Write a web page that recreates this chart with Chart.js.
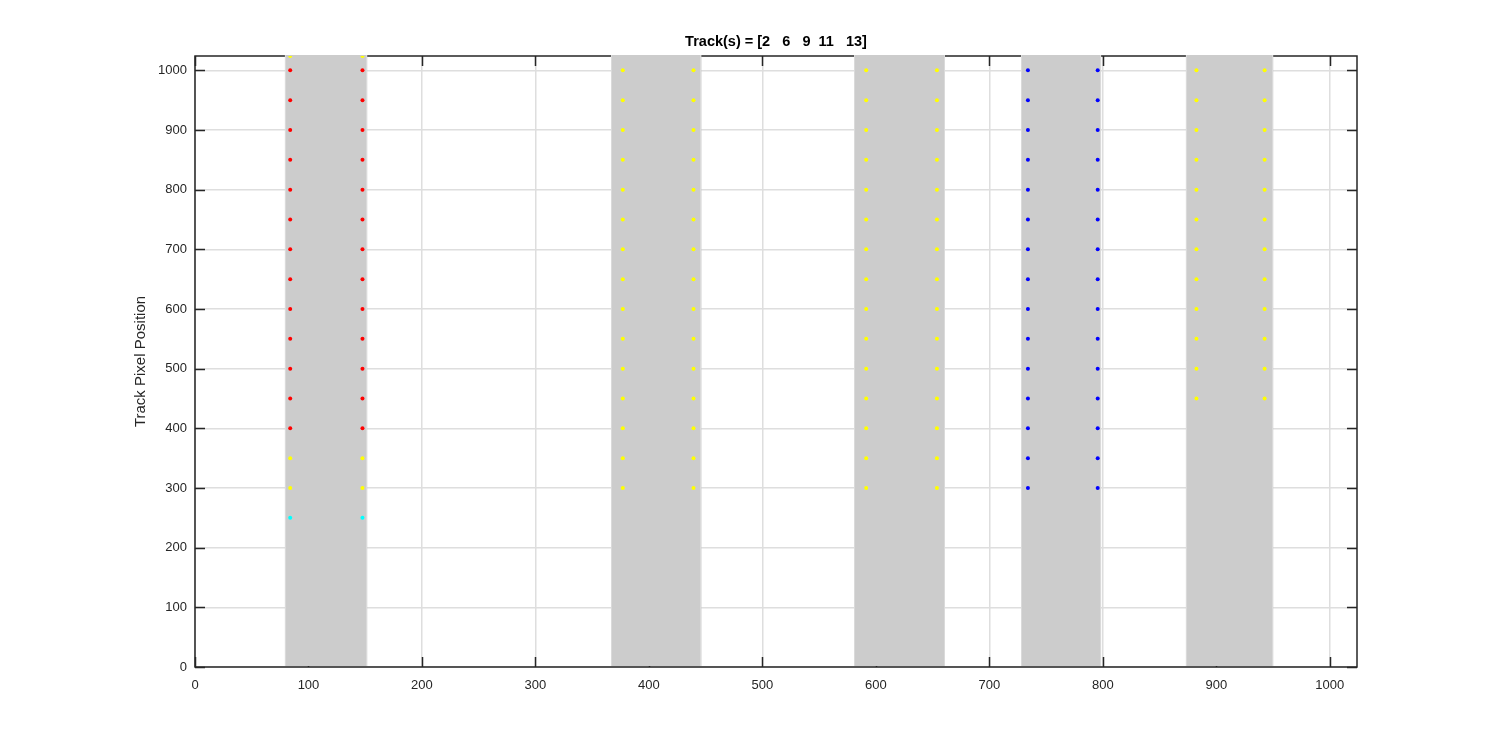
<!DOCTYPE html>
<html lang="en">
<head>
  <meta charset="UTF-8" />
  <title>Track Pixel Position</title>
  <script src="https://cdn.jsdelivr.net/npm/chart.js"></script>
  <style>
    html, body { margin: 0; padding: 0; background: #fff; }
    #wrap { width: 1500px; height: 750px; }
  </style>
</head>
<body>
  <div id="wrap"><canvas id="trackChart" width="1500" height="750"></canvas></div>

  <script>
    const chartTitle = 'Track(s) = [2   6   9  11   13]';
    const yLabel = 'Track Pixel Position';
    const xTicks = [0, 100, 200, 300, 400, 500, 600, 700, 800, 900, 1000];
    const yTicks = [0, 100, 200, 300, 400, 500, 600, 700, 800, 900, 1000];
    const axisMax = 1024;

    // grey stripes (one per track), in pixel-position units
    const bandStart = [79.2, 366.9, 581.1, 728.0, 873.2];
    const bandEnd   = [151.8, 446.3, 660.8, 798.5, 950.2];

    // x of the two dot columns in each stripe
    const leftColX  = [83.9, 377.0, 591.5, 734.0, 882.5];
    const rightColX = [147.6, 439.3, 653.8, 795.5, 942.6];

    // dot rows per track
    const track2Yellow = [1024, 350, 300];
    const track2Red = [1000, 950, 900, 850, 800, 750, 700, 650, 600, 550, 500, 450, 400];
    const track2Cyan = [250];
    const track6Yellow = [1000, 950, 900, 850, 800, 750, 700, 650, 600, 550, 500, 450, 400, 350, 300];
    const track9Yellow = [1000, 950, 900, 850, 800, 750, 700, 650, 600, 550, 500, 450, 400, 350, 300];
    const track11Blue = [1000, 950, 900, 850, 800, 750, 700, 650, 600, 550, 500, 450, 400, 350, 300];
    const track13Yellow = [1000, 950, 900, 850, 800, 750, 700, 650, 600, 550, 500, 450];

    function columnPoints(band, ys) {
      const pts = [];
      ys.forEach(v => {
        pts.push({ x: leftColX[band], y: v });
        pts.push({ x: rightColX[band], y: v });
      });
      return pts;
    }

    function dotSet(label, color, data) {
      return {
        label: label,
        data: data,
        backgroundColor: color,
        borderWidth: 0,
        pointRadius: 2,
        pointHoverRadius: 2
      };
    }

    const FONT = '"Liberation Sans", Arial, sans-serif';
    const AXIS = '#262626';
    const GRID = '#dedede';

    const stripesPlugin = {
      id: 'stripes',
      beforeDatasetsDraw(chart) {
        const { ctx, chartArea: a, scales: { x, y } } = chart;
        ctx.save();

        // axes box
        ctx.strokeStyle = AXIS;
        ctx.lineWidth = 1.5;
        ctx.strokeRect(a.left, a.top, a.right - a.left, a.bottom - a.top);

        // inward tick marks on all four sides
        const tl = 10;
        ctx.beginPath();
        xTicks.forEach(v => {
          const px = Math.round(x.getPixelForValue(v)) + 0.5;
          ctx.moveTo(px, a.bottom); ctx.lineTo(px, a.bottom - tl);
          ctx.moveTo(px, a.top); ctx.lineTo(px, a.top + tl);
        });
        yTicks.forEach(v => {
          const py = Math.round(y.getPixelForValue(v)) + 0.5;
          ctx.moveTo(a.left, py); ctx.lineTo(a.left + tl, py);
          ctx.moveTo(a.right, py); ctx.lineTo(a.right - tl, py);
        });
        ctx.lineWidth = 1.5;
        ctx.stroke();

        // stripes
        const yTop = y.getPixelForValue(axisMax) - 1;
        const yBot = y.getPixelForValue(0) - 1;
        bandStart.forEach((s, i) => {
          const x0 = x.getPixelForValue(s);
          const x1 = x.getPixelForValue(bandEnd[i]);
          ctx.fillStyle = '#cccccc';
          ctx.fillRect(x0, yTop, x1 - x0, yBot - yTop);
          ctx.strokeStyle = '#dadada';
          ctx.lineWidth = 1;
          ctx.beginPath();
          ctx.moveTo(Math.round(x0) + 0.5, yTop); ctx.lineTo(Math.round(x0) + 0.5, yBot);
          ctx.moveTo(Math.round(x1) - 0.5, yTop); ctx.lineTo(Math.round(x1) - 0.5, yBot);
          ctx.stroke();
        });
        ctx.restore();
      }
    };

    const plainTick = v => String(v);

    const trackChart = new Chart(document.getElementById('trackChart').getContext('2d'), {
      type: 'scatter',
      data: {
        datasets: [
          dotSet('Track 2 (red)', '#ff0000', columnPoints(0, track2Red)),
          dotSet('Track 2 (yellow)', '#ffff00', columnPoints(0, track2Yellow)),
          dotSet('Track 2 (cyan)', '#00ffff', columnPoints(0, track2Cyan)),
          dotSet('Track 6', '#ffff00', columnPoints(1, track6Yellow)),
          dotSet('Track 9', '#ffff00', columnPoints(2, track9Yellow)),
          dotSet('Track 11', '#0000ff', columnPoints(3, track11Blue)),
          dotSet('Track 13', '#ffff00', columnPoints(4, track13Yellow))
        ]
      },
      options: {
        responsive: false,
        animation: false,
        layout: { padding: { left: 0, right: 143, top: 0, bottom: 0 } },
        plugins: {
          legend: { display: false },
          tooltip: { enabled: false },
          title: { display: false }
        },
        scales: {
          x: {
            type: 'linear',
            min: 0,
            max: axisMax,
            afterFit(scale) { scale.height = 83; },
            border: { display: false },
            grid: { color: GRID, lineWidth: 1.5, drawTicks: false },
            ticks: {
              stepSize: 100,
              includeBounds: false,
              autoSkip: false,
              maxRotation: 0,
              padding: 11,
              color: AXIS,
              font: { family: FONT, size: 13 },
              callback: plainTick
            }
          },
          // top axis only carries the chart title, centred over the axes
          xTop: {
            type: 'linear',
            position: 'top',
            min: 0,
            max: axisMax,
            afterFit(scale) { scale.height = 56; },
            border: { display: false },
            grid: { display: false, drawTicks: false },
            ticks: { display: false },
            title: {
              display: true,
              text: chartTitle,
              color: '#000',
              font: { family: FONT, size: 14.5, weight: 'bold' },
              padding: { top: 33.3, bottom: 0 }
            }
          },
          y: {
            type: 'linear',
            min: 0,
            max: axisMax,
            afterFit(scale) { scale.width = 195; },
            border: { display: false },
            grid: { color: GRID, lineWidth: 1.5, drawTicks: false },
            ticks: {
              stepSize: 100,
              includeBounds: false,
              autoSkip: false,
              padding: 8,
              color: AXIS,
              font: { family: FONT, size: 13 },
              callback: plainTick
            },
            title: {
              display: true,
              text: yLabel,
              color: AXIS,
              font: { family: FONT, size: 15 },
              padding: { top: 132, bottom: 0 }
            }
          }
        }
      },
      plugins: [stripesPlugin]
    });
  </script>
</body>
</html>
